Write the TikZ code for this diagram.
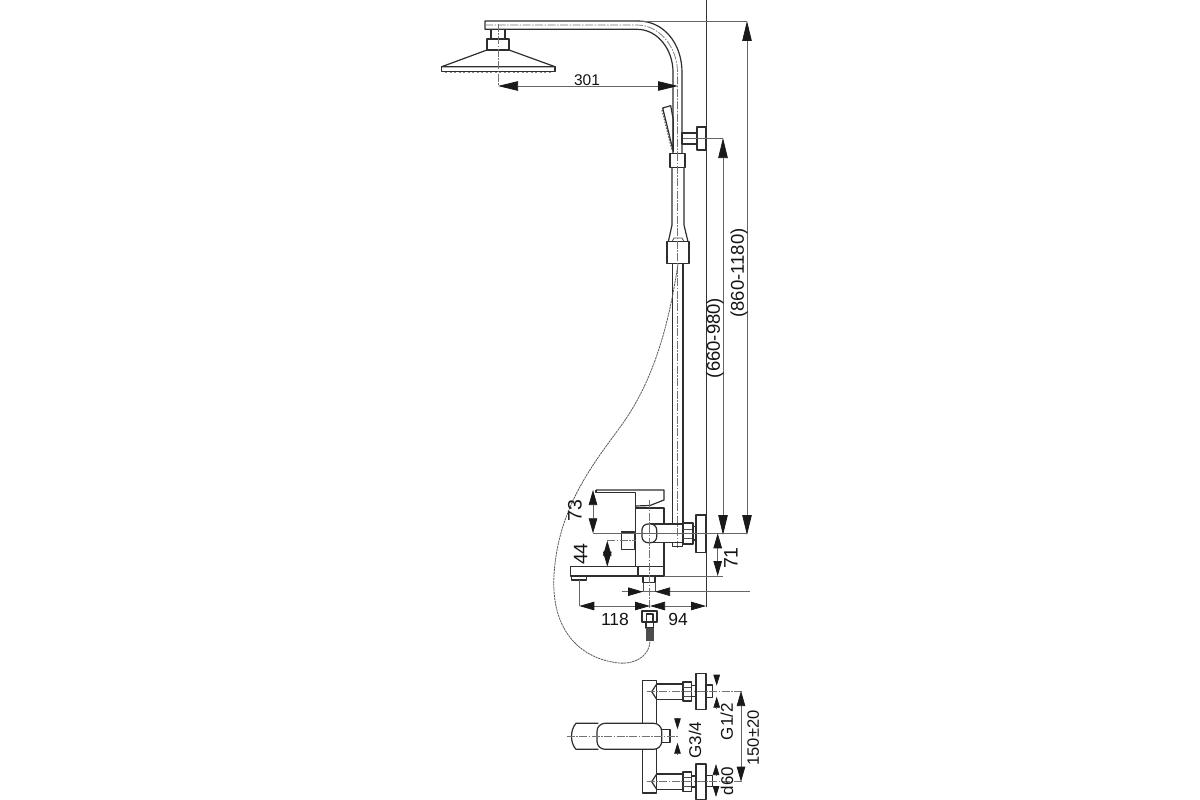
\documentclass[tikz,border=0pt]{standalone}
\usepackage{fontspec}
\setmainfont{Liberation Sans}
\usetikzlibrary{arrows.meta}
\tikzset{
  part/.style={draw=black!82,line width=1.2pt,line join=round},
  thin part/.style={draw=black!70,line width=0.8pt},
  axis/.style={draw=black!55,line width=0.7pt,dash pattern=on 8pt off 1.5pt on 1.5pt off 1.5pt},
  ext/.style={draw=black!60,line width=0.7pt},
  dimline/.style={draw=black!60,line width=0.75pt},
  big/.style={dimline,>={Triangle[length=20pt,width=9.5pt,black!90]}},
  med/.style={dimline,>={Triangle[length=15pt,width=8.5pt,black!90]}},
  small tip/.style={dimline,-{Triangle[length=11pt,width=6.5pt,black!90]}},
  lab/.style={inner sep=0pt,text=black!92,font=\fontsize{#1}{#1}\selectfont},
  lab/.default=18,
  hose/.style={draw=black!65,line width=0.8pt,dash pattern=on 2.2pt off 0.7pt},
}
\begin{document}
\begin{tikzpicture}[x=1pt,y=-1pt]
\useasboundingbox (0,0) rectangle (1200,800);
\fill[white] (0,0) rectangle (1200,800);
% wall
\draw[line width=1pt,black!80] (706,0) -- (706,607);
% shower arm
\draw[part] (638,21) -- (485,21) -- (485,29.3) -- (637,29.3) .. controls (658,29.3) and (673,50) .. (673,72) -- (673,153.5);
\draw[part] (638,21) .. controls (665,21) and (682,45) .. (682,72) -- (682,153.5);
\draw[axis] (485,25) -- (637,25) .. controls (660,25) and (677.5,48) .. (677.5,72) -- (677.5,153);
% rain head
\draw[part] (491,29.3) rectangle (505,39);
\draw[part] (487,39) rectangle (509,50);
\draw[part] (487,50) -- (441.7,66.7) -- (555,66.7) -- (509,50);
\draw[part] (441.7,66.7) rectangle (555,71.7);
\draw[draw=black!45,line width=0.8pt,dash pattern=on 2pt off 2.5pt] (445,72.5) -- (552,72.5);
\draw[axis] (498,24) -- (498,86);
% dim 301
\draw[big,<->] (498,86) -- (678,86);
\node[lab=15.5] (d301) at (587,80) {301};
% hand shower
\draw[part] (662.7,108) -- (670.7,105.7) -- (673.3,120) -- (673.3,151.7) -- cycle;
\draw[hose,line width=1.2pt,dash pattern=on 1.5pt off 1.5pt] (662,110) -- (672,150);
% bracket
\draw[part] (697,127) rectangle (706,150);
\draw[part] (682,133) rectangle (697,144);
\draw[ext] (683,138) -- (723,138);
% rail sliders
\draw[part] (670,153.5) rectangle (685,167.5);
\draw[part] (672,167.5) -- (672,225) -- (668.3,241.7);
\draw[part] (684,167.5) -- (684,225) -- (688,241.7);
\draw[thin part] (672,241.7) -- (674,238) -- (682,238) -- (684,241.7);
\draw[part] (667,241.7) rectangle (689,263.7);
\draw[part] (672.5,263.7) -- (672.5,524);
\draw[part] (683,263.7) -- (683,524);
\draw[axis] (677.7,153) -- (677.7,548);
% dims big
\draw[ext] (638,21) -- (747,21);
\draw[big,<->] (747,21) -- (747,535);
\draw[big,<->] (723,138) -- (723,535);
\node[lab=18.5,rotate=90] (d1180) at (739,273) {(860-1180)};
\node[lab=18.5,rotate=90] (d980) at (715,338) {(660-980)};
% hose
\draw[hose] (678,264) .. controls (668,330) and (652,385) .. (618,430)
  .. controls (590,468) and (558,510) .. (554,575)
  .. controls (551,625) and (575,655) .. (612,662)
  .. controls (635,667) and (650,655) .. (650,641);
% faucet
\draw[part] (596,490) -- (664,490) -- (664,500) -- (650,505.5) -- (635.7,506);
\draw[part] (596,490) -- (596,492.7) -- (635.7,492.7) -- (635.7,566.7);
\draw[part] (635.7,508) -- (664,508) -- (664,524);
\draw[part] (664,543) -- (664,566.7);
\draw[part] (570.7,566.7) rectangle (664,576);
\draw[part] (638,566.7) -- (638,576);
\draw[part] (571.7,576) rectangle (586.7,580);
\draw[part] (643,576) rectangle (655,582.7);
\draw[thin part] (643,582.7) -- (643,592) (655,582.7) -- (655,592);
\draw[part] (650,524) -- (683,524) (650,542.7) -- (683,542.7);
\draw[part,fill=white,rounded corners=6pt] (642,524) rectangle (656.7,542.7);
\draw[part] (683,523) rectangle (693,544);
\draw[thin part] (683,529) -- (693,529) (683,538) -- (693,538);
\draw[part] (693,526.7) rectangle (696,540);
\draw[part] (696,515) rectangle (706,552.7);
\draw[part] (672.7,542.7) -- (672.7,546.7) -- (682.7,546.7) -- (682.7,542.7);
\draw[part] (621.7,532) rectangle (634.3,549.3);
\draw[axis] (649.5,500) -- (649.5,608);
\draw[axis] (607,540.7) -- (636,540.7);
% faucet dims
\draw[ext] (593,533.3) -- (747,533.3);
\draw[med,<->] (593,490) -- (593,533.3);
\node[lab=19.5,rotate=90] (d73) at (575,510.7) {73};
\draw[med,<->] (607.3,540.7) -- (607.3,566.7);
\node[lab=19.5,rotate=90] (d44) at (580.7,554) {44};
\draw[ext] (664,576) -- (723,576);
\draw[med,<->] (717.7,533.3) -- (717.7,576);
\node[lab=19.5,rotate=90] (d71) at (731,558) {71};
\draw[dimline] (621.7,591.7) -- (750,591.7);
\draw[med,->] (628,591.7) -- (643,591.7);
\draw[med,->] (670.7,591.7) -- (655,591.7);
\draw[ext] (579.3,580) -- (579.3,606);
\draw[med,<->] (579.3,606) -- (650,606);
\draw[med,<->] (650,606) -- (706,606);
\node[lab=17.5] (d118) at (615,619) {118};
\node[lab=17.5] (d94) at (678,619) {94};
% connector fitting
\draw[part] (642,611) rectangle (657,622);
\draw[part] (646.5,614) rectangle (653,622);
\draw[part] (646,622) rectangle (653.5,628);
\fill[black!70] (646,628) rectangle (653.5,641);
% bottom view: bar
\draw[part] (642.7,680.7) rectangle (656.7,793);
% upper arm
\draw[part] (656.7,684) -- (683,684) (656.7,699.3) -- (683,699.3);
\draw[part] (656.7,684) -- (651.7,691.7) -- (656.7,699.3);
\draw[part] (683,682) rectangle (691.7,701);
\draw[thin part] (683,687) -- (691.7,687) (683,696) -- (691.7,696);
\draw[part] (691.7,685.7) rectangle (696,696.7);
\draw[part] (696,673.3) rectangle (706,709.3);
\draw[part] (706,685) rectangle (712.3,697.3);
\draw[axis] (646.7,691) -- (741.7,691);
% lower arm
\draw[part] (656.7,774) -- (683,774) (656.7,789.3) -- (683,789.3);
\draw[part] (656.7,774) -- (651.7,781.7) -- (656.7,789.3);
\draw[part] (683,772) rectangle (691.7,791.7);
\draw[thin part] (683,777) -- (691.7,777) (683,786.5) -- (691.7,786.5);
\draw[part] (691.7,776) rectangle (696,787);
\draw[part] (696,764) rectangle (706,799.3);
\draw[part] (706,775.7) rectangle (712.3,786.7);
\draw[axis] (646.7,781.7) -- (741.7,781.7);
% spout from top
\draw[part] (598.3,723.3) -- (576,723.3) .. controls (570,730) and (570,743) .. (576,749.3) -- (598.3,749.3);
\draw[part,fill=white,rounded corners=8pt] (597,723.3) rectangle (661.7,749.3);
\draw[part] (661.7,729.3) rectangle (670,742.7);
\draw[axis] (566.7,736) -- (678.3,736);
% bottom dims
\draw[small tip] (677.5,718) -- (677.5,729.3);
\draw[small tip] (677.5,755) -- (677.5,742.7);
\node[lab=17,rotate=90] (dg34) at (695,740) {G3/4};
\draw[small tip] (716.7,675) -- (716.7,685.7);
\draw[small tip] (716.7,708.3) -- (716.7,696.7);
\node[lab=17,rotate=90] (dg12) at (726.7,721.7) {G1/2};
\draw[med,<->] (741,691) -- (741,781.7);
\node[lab=16.5,rotate=90] (d150) at (753.3,738) {150±20};
\draw[small tip] (716,775) -- (716,764);
\draw[small tip] (716,786) -- (716,797);
\node[lab=17,rotate=90] (d60) at (727,781) {d60};
\end{tikzpicture}
\end{document}
